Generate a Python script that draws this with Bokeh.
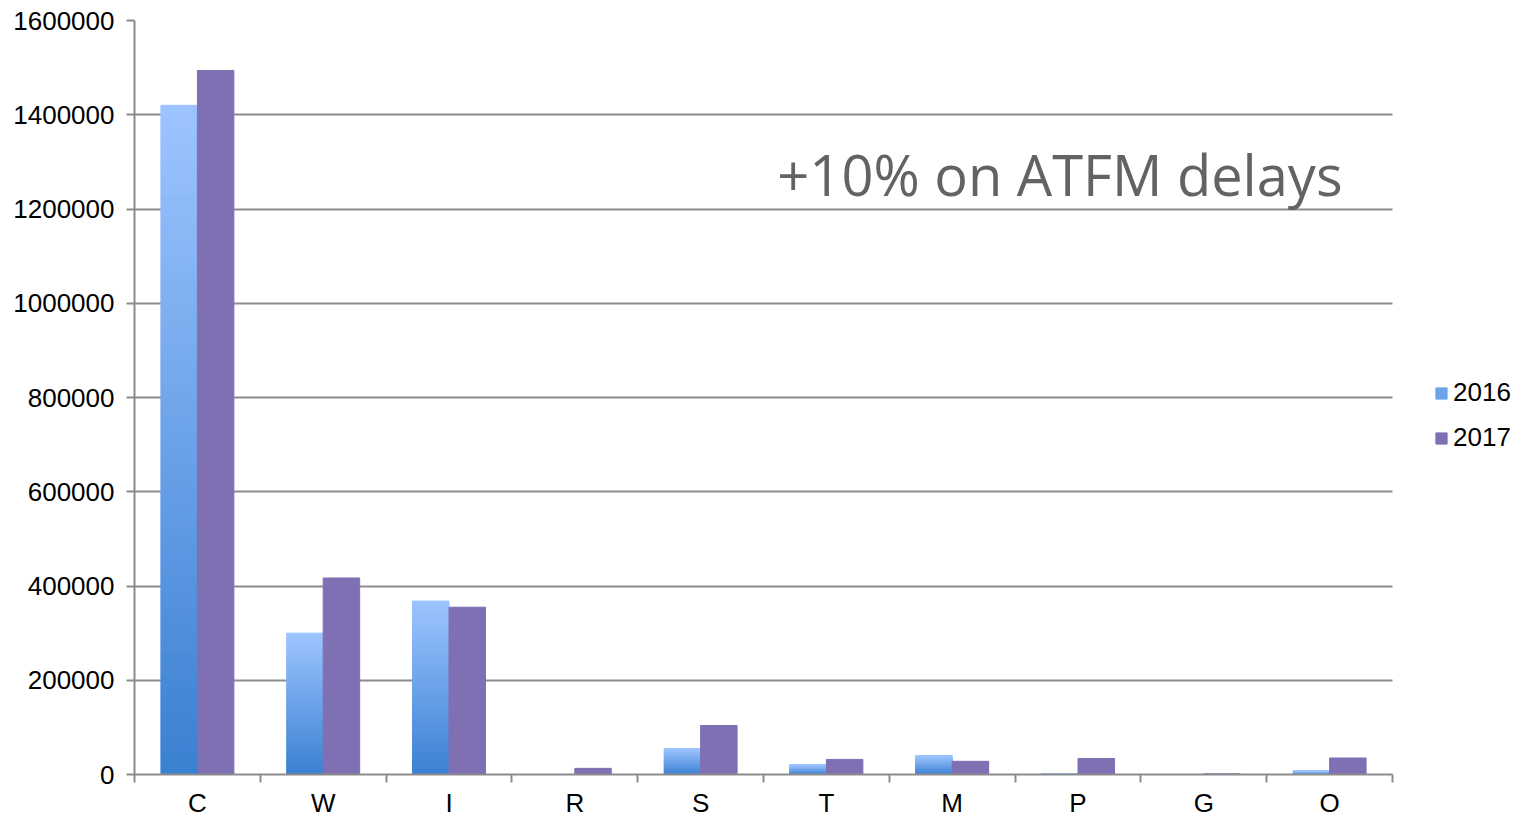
from bokeh.plotting import figure
from bokeh.models import (Range1d, FixedTicker, Legend, LegendItem,
                          ColumnDataSource, BasicTickFormatter)
from bokeh.core.properties import value
from bokeh.embed import file_html
from bokeh.resources import INLINE

# ---- data ----
categories = ["C", "W", "I", "R", "S", "T", "M", "P", "G", "O"]
values_2016 = [1420000, 300000, 368000, 0, 55000, 21000, 40000, 1500, 0, 8000]
values_2017 = [1494000, 417000, 355000, 13000, 104000, 32000, 28000, 34000, 1500, 35000]
series_names = ["2016", "2017"]
y_ticks = [0, 200000, 400000, 600000, 800000, 1000000, 1200000, 1400000, 1600000]
annotation_text = "+10%  on ATFM delays"

# ---- styles ----
GRAD_TOP = (157, 196, 255)
GRAD_BOTTOM = (58, 128, 210)
COLOR_2017 = "#7F6FB3"
GRID = "#8c8c8c"
BAR_W = 0.29
N_SLICES = 60
N = len(categories)
# the frame extends to the right edge so the legend can sit inside it;
# axis / grid are bounded to the category span
X_END = N * (1526 - 134) / (1392 - 134)


def hexcol(rgb):
    return "#%02x%02x%02x" % tuple(int(round(c)) for c in rgb)


# gradient slices for the 2016 series (each bar light at top, dark at bottom)
xs, bottoms, tops, colors = [], [], [], []
for i, v in enumerate(values_2016):
    if v <= 0:
        continue
    for k in range(N_SLICES):
        t = (k + 0.5) / N_SLICES
        col = [GRAD_BOTTOM[j] + (GRAD_TOP[j] - GRAD_BOTTOM[j]) * t for j in range(3)]
        xs.append(i + 0.5 - BAR_W / 2)
        bottoms.append(v * k / N_SLICES)
        tops.append(v * (k + 1) / N_SLICES)
        colors.append(hexcol(col))
src16 = ColumnDataSource(dict(x=xs, bottom=bottoms, top=tops, color=colors))
src17 = ColumnDataSource(dict(x=[i + 0.5 + BAR_W / 2 for i in range(N)],
                              top=values_2017))

p = figure(width=1526, height=820, output_backend="svg", toolbar_location=None,
           x_range=Range1d(0, X_END), y_range=Range1d(0, 1600000),
           min_border_left=134, min_border_right=0, min_border_top=20,
           min_border_bottom=44)
p.outline_line_color = None
p.background_fill_color = "white"
p.border_fill_color = "white"

r16 = p.vbar(x="x", bottom="bottom", top="top", width=BAR_W, source=src16,
             fill_color="color", line_color="color", line_width=1)
r17 = p.vbar(x="x", top="top", bottom=0, width=BAR_W, source=src17,
             fill_color=COLOR_2017, line_color=COLOR_2017, line_width=1)

# axes
p.xgrid.visible = False
p.ygrid.grid_line_color = GRID
p.ygrid.grid_line_width = 2
p.ygrid.ticker = FixedTicker(ticks=y_ticks)
p.ygrid.cross_bounds = (0, N)

yax = p.yaxis[0]
yax.ticker = FixedTicker(ticks=y_ticks)
yax.formatter = BasicTickFormatter(use_scientific=False)
yax.axis_line_color = GRID
yax.axis_line_width = 2
yax.major_tick_line_color = GRID
yax.major_tick_line_width = 2
yax.major_tick_in = 0
yax.major_tick_out = 8
yax.minor_tick_line_color = None
yax.major_label_standoff = 12
yax.major_label_text_font = "Liberation Sans"
yax.major_label_text_font_size = "26px"
yax.major_label_text_color = "black"

xax = p.xaxis[0]
xax.bounds = (0, N)
xax.ticker = FixedTicker(ticks=[i + 0.5 for i in range(N)],
                         minor_ticks=list(range(N + 1)))
xax.major_label_overrides = {i + 0.5: c for i, c in enumerate(categories)}
xax.axis_line_color = GRID
xax.axis_line_width = 2
xax.major_tick_line_color = None
xax.major_tick_in = 0
xax.major_tick_out = 0
xax.minor_tick_line_color = GRID
xax.minor_tick_line_width = 2
xax.minor_tick_in = 0
xax.minor_tick_out = 8
xax.major_label_standoff = 5
xax.major_label_text_font = "Liberation Sans"
xax.major_label_text_font_size = "26px"
xax.major_label_text_color = "black"

# annotation text (as a glyph)
p.text(x=[5.11], y=[1275000], text=[annotation_text], text_font=value("Open Sans"),
       text_font_size="56px", text_color="#636363", text_baseline="alphabetic",
       text_align="left")

# legend
legend = Legend(items=[LegendItem(label=series_names[0], renderers=[r16], index=N_SLICES // 2),
                       LegendItem(label=series_names[1], renderers=[r17], index=0)],
                location=(1300, 321), margin=0, padding=0, border_line_color=None,
                background_fill_alpha=0, glyph_width=14, glyph_height=14,
                label_text_font="Liberation Sans", label_text_font_size="26px",
                label_text_color="black",
                label_height=28, spacing=14, label_standoff=5)
p.add_layout(legend, "center")

open("out.html", "w").write(file_html(p, INLINE))
